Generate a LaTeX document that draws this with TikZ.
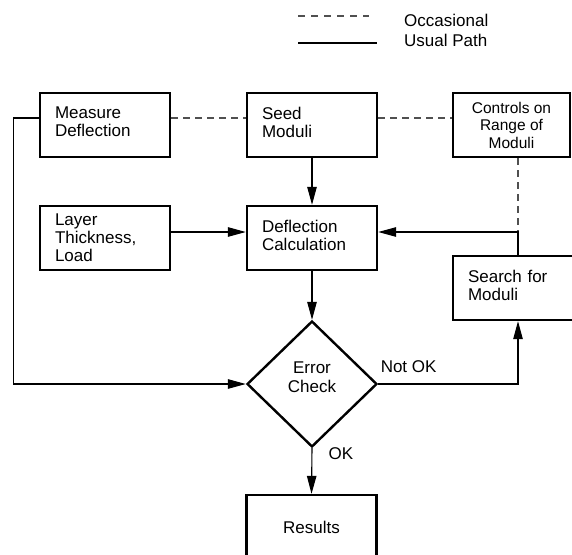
\documentclass[tikz,border=0pt]{standalone}
\usepackage{fontspec}
\setmainfont{Liberation Sans}
\usetikzlibrary{arrows.meta,positioning,calc,shapes.geometric}
\definecolor{dashgray}{RGB}{80,80,80}

\tikzset{
  procbox/.style={draw, line width=2.4pt, minimum width=130pt, minimum height=64pt,
    inner sep=0pt, font=\fontsize{17}{18}\selectfont},
  leftbox/.style={procbox, text width=100pt, align=left},
  twoline/.style={leftbox, text depth=24pt},
  ctrlbox/.style={procbox, minimum width=117pt, align=center,
    font=\fontsize{15.5}{17.5}\selectfont},
  decision/.style={draw, diamond, line width=2.4pt, minimum width=130pt,
    minimum height=126pt, inner sep=0pt, align=center, text depth=14pt,
    font=\fontsize{17}{19}\selectfont},
  flow/.style={line width=1.1pt, -{Triangle[length=18pt,width=9.5pt]}},
  occasional/.style={line width=1.1pt, dashgray, dash pattern=on 7pt off 5pt},
  lbl/.style={inner sep=0pt, font=\fontsize{17}{18}\selectfont}
}

\begin{document}
\begin{tikzpicture}[x=1pt, y=-1pt]
  \useasboundingbox (0,0) rectangle (572,554);
  \clip (0,0) rectangle (572,554);
  %% legend
  \coordinate (occA) at (298,16);
  \coordinate (occB) at (369,16);
  \coordinate (usualA) at (298,43);
  \coordinate (usualB) at (377,43);
  \draw[occasional, dash pattern=on 7pt off 6pt] (occA) -- (occB);
  \draw[line width=1.1pt] (usualA) -- (usualB);
  \node[lbl, anchor=base west] (occtext) at (404,26.5) {Occasional};
  \node[lbl, anchor=base west] (usualtext) at (404,46.5) {Usual Path};
  %% boxes
  \node[twoline] (measure) at (105,125) {Measure\\Deflection};
  \node[twoline] (seed) at (312,125) {Seed\\Moduli};
  \node[ctrlbox] (controls) at (511.5,125) {Controls on\\Range of\\Moduli};
  \node[leftbox] (layer) at (105,238) {Layer\\Thickness,\\Load};
  \node[twoline] (deflcalc) at (312,238) {Deflection\\Calculation};
  \node[twoline] (search) at (518,288) {Search for\\Moduli};
  \node[decision] (check) at (312,384) {Error\\Check};
  \node[procbox] (results) at (311.5,527) {Results};
  \coordinate (bend) at (518,232);
  %% occasional paths
  \draw[occasional] ([yshift=7pt]measure.east) -- ([yshift=7pt]seed.west);
  \draw[occasional] ([yshift=7pt]seed.east) -- ([yshift=7pt]controls.west);
  \draw[occasional] (controls.south -| bend) -- (bend);
  %% usual paths
  \draw[flow] (seed) -- (deflcalc);
  \draw[flow] ([yshift=6pt]layer.east) -- ([yshift=6pt]deflcalc.west);
  \draw[flow] (search.north) -- (bend) -- ([yshift=6pt]deflcalc.east);
  \draw[flow] (deflcalc) -- (check);
  \draw[flow] ([yshift=7pt]measure.west) -- ++(-25,0) |- (check.west);
  \draw[flow] (check.east)
    -- node[lbl, pos=0, anchor=base west, xshift=2pt, yshift=12pt] (notok) {Not OK}
    (check.east -| search.south) -- (search.south);
  \draw[flow] (check.south)
    -- node[lbl, pos=0, anchor=base west, xshift=16pt, yshift=-11pt] (ok) {OK}
    (results.north);
\end{tikzpicture}
\end{document}
